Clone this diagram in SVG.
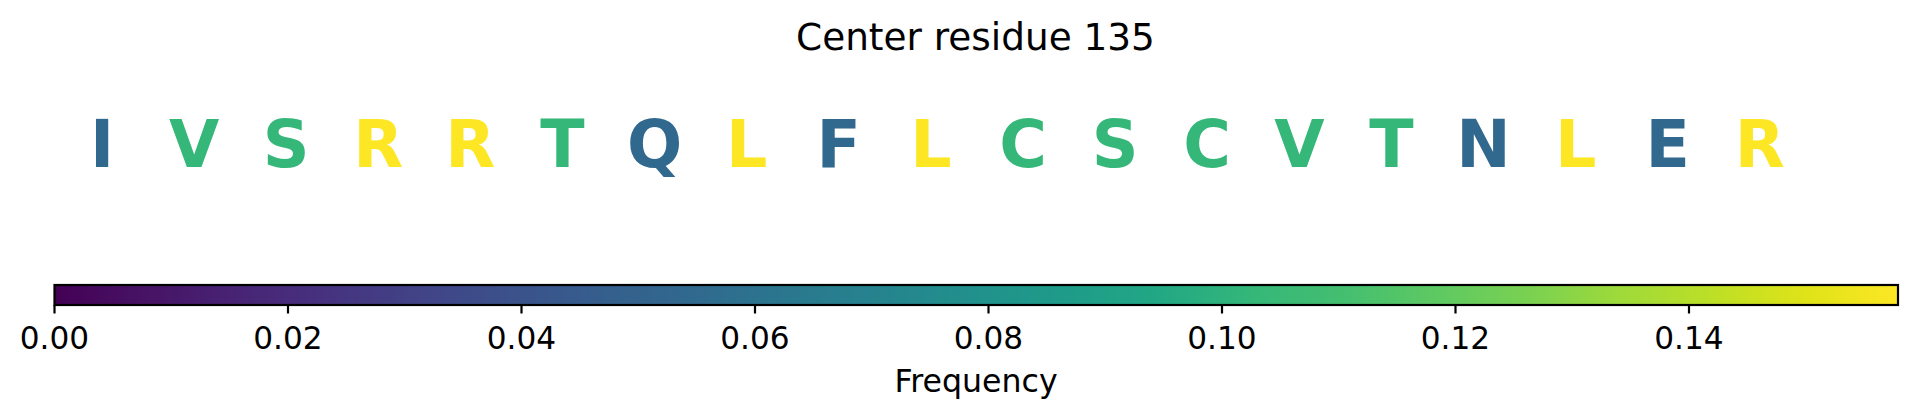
<svg xmlns="http://www.w3.org/2000/svg" width="1917" height="416" viewBox="0 0 1917 416">
<style>
text{font-family:"DejaVu Sans","Liberation Sans",sans-serif;fill:#000}
.res{font-weight:bold;font-size:65px;text-anchor:middle}
.c1{fill:#31688e}.c2{fill:#35b779}.c3{fill:#fde725}
.tick{font-size:31.2px;text-anchor:middle}
.tk{stroke:#000;stroke-width:2.2}
</style>
<defs>
<linearGradient id="viridis" x1="0" y1="0" x2="1" y2="0">
<stop offset="0" stop-color="#440154"/>
<stop offset="0.05" stop-color="#471365"/>
<stop offset="0.1" stop-color="#482475"/>
<stop offset="0.15" stop-color="#46337f"/>
<stop offset="0.2" stop-color="#414487"/>
<stop offset="0.25" stop-color="#3b528b"/>
<stop offset="0.3" stop-color="#355f8d"/>
<stop offset="0.35" stop-color="#306a8e"/>
<stop offset="0.4" stop-color="#2a788e"/>
<stop offset="0.45" stop-color="#25848e"/>
<stop offset="0.5" stop-color="#21918c"/>
<stop offset="0.55" stop-color="#1e9c89"/>
<stop offset="0.6" stop-color="#22a884"/>
<stop offset="0.65" stop-color="#35b779"/>
<stop offset="0.7" stop-color="#44bf70"/>
<stop offset="0.75" stop-color="#5ec962"/>
<stop offset="0.8" stop-color="#7ad151"/>
<stop offset="0.85" stop-color="#9fda3a"/>
<stop offset="0.9" stop-color="#bddf26"/>
<stop offset="0.95" stop-color="#dfe318"/>
<stop offset="1" stop-color="#fde725"/>
</linearGradient>
</defs>
<text id="title" x="975.5" y="50" font-size="37.4" text-anchor="middle">Center residue 135</text>
<g id="residues">
<g id="r0"><text class="res c1" x="102" y="166.7">I</text></g>
<g id="r1"><text class="res c2" x="194.1" y="166.7">V</text></g>
<g id="r2"><text class="res c2" x="286.2" y="166.7">S</text></g>
<g id="r3"><text class="res c3" x="378.3" y="166.7">R</text></g>
<g id="r4"><text class="res c3" x="470.4" y="166.7">R</text></g>
<g id="r5"><text class="res c2" x="562.5" y="166.7">T</text></g>
<g id="r6"><text class="res c1" x="654.6" y="166.7">Q</text></g>
<g id="r7"><text class="res c3" x="746.7" y="166.7">L</text></g>
<g id="r8"><text class="res c1" x="838.8" y="166.7">F</text></g>
<g id="r9"><text class="res c3" x="930.9" y="166.7">L</text></g>
<g id="r10"><text class="res c2" x="1023" y="166.7">C</text></g>
<g id="r11"><text class="res c2" x="1115.1" y="166.7">S</text></g>
<g id="r12"><text class="res c2" x="1207.2" y="166.7">C</text></g>
<g id="r13"><text class="res c2" x="1299.3" y="166.7">V</text></g>
<g id="r14"><text class="res c2" x="1391.4" y="166.7">T</text></g>
<g id="r15"><text class="res c1" x="1483.5" y="166.7">N</text></g>
<g id="r16"><text class="res c3" x="1575.6" y="166.7">L</text></g>
<g id="r17"><text class="res c1" x="1667.7" y="166.7">E</text></g>
<g id="r18"><text class="res c3" x="1759.8" y="166.7">R</text></g>
</g>
<g id="colorbar">
<rect x="54.5" y="285" width="1843.5" height="20" fill="url(#viridis)" stroke="#000" stroke-width="2.2"/>
<g id="ticks">
<line class="tk" x1="54.5" y1="305" x2="54.5" y2="313.5"/>
<line class="tk" x1="288" y1="305" x2="288" y2="313.5"/>
<line class="tk" x1="521.5" y1="305" x2="521.5" y2="313.5"/>
<line class="tk" x1="755" y1="305" x2="755" y2="313.5"/>
<line class="tk" x1="988.5" y1="305" x2="988.5" y2="313.5"/>
<line class="tk" x1="1222" y1="305" x2="1222" y2="313.5"/>
<line class="tk" x1="1455.5" y1="305" x2="1455.5" y2="313.5"/>
<line class="tk" x1="1689" y1="305" x2="1689" y2="313.5"/>
</g>
<text class="tick" x="54.5" y="348.5">0.00</text>
<text class="tick" x="288" y="348.5">0.02</text>
<text class="tick" x="521.5" y="348.5">0.04</text>
<text class="tick" x="755" y="348.5">0.06</text>
<text class="tick" x="988.5" y="348.5">0.08</text>
<text class="tick" x="1222" y="348.5">0.10</text>
<text class="tick" x="1455.5" y="348.5">0.12</text>
<text class="tick" x="1689" y="348.5">0.14</text>
<text x="976" y="391.5" font-size="31.6" text-anchor="middle">Frequency</text>
</g>
</svg>
